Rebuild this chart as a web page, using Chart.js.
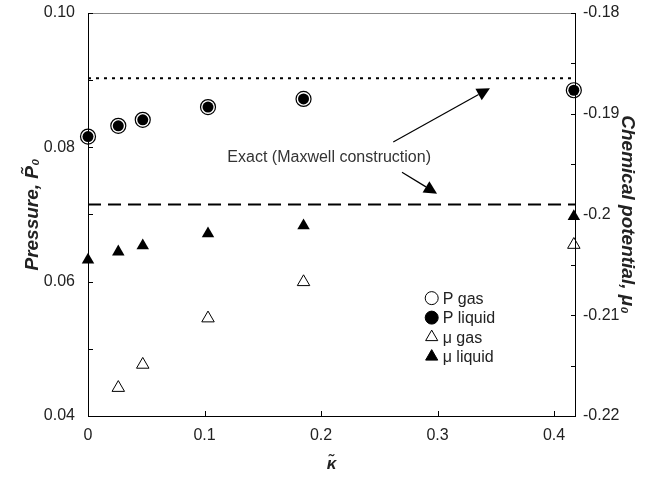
<!DOCTYPE html>
<html>
<head>
<meta charset="utf-8">
<script src="https://cdn.jsdelivr.net/npm/chart.js@4.4.1/dist/chart.umd.min.js"></script>
<style>
  html, body { margin: 0; padding: 0; background: #fff; }
  #wrap { width: 646px; height: 481px; }
</style>
</head>
<body>
<div id="wrap"><canvas id="chart"></canvas></div>
<script>
// data
const kappa = [0, 0.026, 0.047, 0.103, 0.185, 0.417];
const pGas = [0.0816, 0.0832, 0.0841, 0.086, 0.0872, 0.0885];
const pLiquid = [0.0816, 0.0832, 0.0841, 0.086, 0.0872, 0.0885];
const kappaMuGas = [0.026, 0.047, 0.103, 0.185, 0.417];
const muGas = [-0.2172, -0.2149, -0.2103, -0.2067, -0.203];
const muLiquid = [-0.2045, -0.2037, -0.2031, -0.2019, -0.2011, -0.2002];
const pExact = 0.0903;
const muExact = -0.199;

const xTicks = [0, 0.1, 0.2, 0.3, 0.4];
const pTicks = [0.04, 0.06, 0.08, 0.1];
const pMinor = [0.04, 0.05, 0.06, 0.07, 0.08, 0.09, 0.1];
const muTicks = [-0.22, -0.21, -0.2, -0.19, -0.18];
const muMinor = [-0.22, -0.215, -0.21, -0.205, -0.2, -0.195, -0.19, -0.185, -0.18];

const noteText = "Exact (Maxwell construction)";
const noteAt = [0.207, 0.0784];
// arrows: [fromX, fromP, toX, toP]
const arrows = [
  [0.262, 0.0808, 0.345, 0.0888],
  [0.2695, 0.0763, 0.2996, 0.0731]
];

const FONT = "'Liberation Sans', Arial, sans-serif";
const pts = (xs, ys) => xs.map((x, i) => ({ x: x, y: ys[i] }));

const legendItems = [
  { label: "P gas", style: "circle", fill: "#fff", r: 6.5 },
  { label: "P liquid", style: "circle", fill: "#000", r: 6.5 },
  { label: "\u03bc gas", style: "triangle", fill: "#fff", r: 7 },
  { label: "\u03bc liquid", style: "triangle", fill: "#000", r: 7 }
];

const boxAndExtras = {
  id: "boxAndExtras",
  afterDraw(chart) {
    const ctx = chart.ctx;
    const a = chart.chartArea;
    const x = chart.scales.x, yP = chart.scales.yP, yM = chart.scales.yM;
    ctx.save();
    // frame
    ctx.strokeStyle = "#000";
    ctx.lineWidth = 1;
    ctx.beginPath();
    ctx.moveTo(a.left + 0.5, a.top);
    ctx.lineTo(a.left + 0.5, a.bottom + 0.5);
    ctx.lineTo(a.right + 0.5, a.bottom + 0.5);
    ctx.lineTo(a.right + 0.5, a.top);
    ctx.stroke();
    ctx.strokeStyle = "#888";
    ctx.beginPath();
    ctx.moveTo(a.left, a.top + 0.5);
    ctx.lineTo(a.right + 1, a.top + 0.5);
    ctx.stroke();
    // inward tick marks
    ctx.strokeStyle = "#000";
    ctx.beginPath();
    xTicks.forEach(v => {
      const px = Math.round(x.getPixelForValue(v)) + 0.5;
      ctx.moveTo(px, a.bottom);
      ctx.lineTo(px, a.bottom - 5);
    });
    pMinor.forEach(v => {
      const py = Math.round(yP.getPixelForValue(v)) + 0.5;
      ctx.moveTo(a.left, py);
      ctx.lineTo(a.left + 5, py);
    });
    muMinor.forEach(v => {
      const py = Math.round(yM.getPixelForValue(v)) + 0.5;
      ctx.moveTo(a.right + 1, py);
      ctx.lineTo(a.right - 4, py);
    });
    ctx.stroke();

    // annotation text and arrows
    ctx.fillStyle = "#333";
    ctx.font = "16px " + FONT;
    ctx.textAlign = "center";
    ctx.textBaseline = "middle";
    ctx.fillText(noteText, x.getPixelForValue(noteAt[0]), yP.getPixelForValue(noteAt[1]));
    ctx.strokeStyle = "#000";
    ctx.fillStyle = "#000";
    ctx.lineWidth = 1.2;
    arrows.forEach(ar => {
      const x0 = x.getPixelForValue(ar[0]), y0 = yP.getPixelForValue(ar[1]);
      const x1 = x.getPixelForValue(ar[2]), y1 = yP.getPixelForValue(ar[3]);
      const ang = Math.atan2(y1 - y0, x1 - x0);
      const hl = 13, hw = 6.5;
      const bx = x1 - hl * Math.cos(ang), by = y1 - hl * Math.sin(ang);
      ctx.beginPath();
      ctx.moveTo(x0, y0);
      ctx.lineTo(bx, by);
      ctx.stroke();
      ctx.beginPath();
      ctx.moveTo(x1, y1);
      ctx.lineTo(bx + hw * Math.sin(ang), by - hw * Math.cos(ang));
      ctx.lineTo(bx - hw * Math.sin(ang), by + hw * Math.cos(ang));
      ctx.closePath();
      ctx.fill();
    });

    // legend
    const lx = x.getPixelForValue(0.295), ly0 = yM.getPixelForValue(-0.2083);
    ctx.font = "16px " + FONT;
    ctx.textAlign = "left";
    legendItems.forEach((it, i) => {
      const cy = ly0 + i * 19.5;
      ctx.fillStyle = it.fill;
      ctx.strokeStyle = "#000";
      ctx.lineWidth = 1;
      ctx.beginPath();
      if (it.style === "circle") {
        ctx.arc(lx, cy, it.r, 0, Math.PI * 2);
      } else {
        const r = it.r;
        ctx.moveTo(lx, cy - r);
        ctx.lineTo(lx + r * 0.866, cy + r * 0.5);
        ctx.lineTo(lx - r * 0.866, cy + r * 0.5);
        ctx.closePath();
      }
      ctx.fill();
      ctx.stroke();
      ctx.fillStyle = "#222";
      ctx.fillText(it.label, lx + 11, cy + 1);
    });
    ctx.restore();
  }
};

function fixWidth(w) {
  return function (scale) {
    scale.width = w;
    scale.paddingTop = 0;
    scale.paddingBottom = 0;
  };
}

new Chart(document.getElementById("chart"), {
  type: "scatter",
  data: {
    datasets: [
      {
        label: "P liquid",
        data: pts(kappa, pLiquid),
        yAxisID: "yP",
        pointStyle: "circle",
        pointRadius: 5.5,
        backgroundColor: "#000",
        borderColor: "#000",
        borderWidth: 0,
        clip: false,
        order: 1
      },
      {
        label: "P gas",
        data: pts(kappa, pGas),
        yAxisID: "yP",
        pointStyle: "circle",
        pointRadius: 7.5,
        backgroundColor: "#fff",
        borderColor: "#000",
        borderWidth: 1.2,
        clip: false,
        order: 2
      },
      {
        label: "\u03bc gas",
        data: pts(kappaMuGas, muGas),
        yAxisID: "yM",
        pointStyle: "triangle",
        pointRadius: 7.2,
        backgroundColor: "#fff",
        borderColor: "#000",
        borderWidth: 1,
        clip: false,
        order: 3
      },
      {
        label: "\u03bc liquid",
        data: pts(kappa, muLiquid),
        yAxisID: "yM",
        pointStyle: "triangle",
        pointRadius: 7.2,
        backgroundColor: "#000",
        borderColor: "#000",
        borderWidth: 0,
        clip: false,
        order: 4
      },
      {
        type: "line",
        label: "P exact",
        data: [{ x: 0, y: pExact }, { x: 0.418, y: pExact }],
        yAxisID: "yP",
        borderColor: "#000",
        borderWidth: 2,
        borderDash: [3, 5],
        pointRadius: 0,
        order: 5
      },
      {
        type: "line",
        label: "\u03bc exact",
        data: [{ x: 0, y: muExact }, { x: 0.418, y: muExact }],
        yAxisID: "yM",
        borderColor: "#000",
        borderWidth: 2,
        borderDash: [13, 7],
        pointRadius: 0,
        order: 6
      }
    ]
  },
  options: {
    responsive: true,
    maintainAspectRatio: false,
    animation: false,
    layout: { padding: { top: 13, left: 0, right: 0, bottom: 0 } },
    plugins: {
      legend: { display: false },
      tooltip: { enabled: false }
    },
    scales: {
      x: {
        type: "linear",
        min: 0,
        max: 0.418,
        afterBuildTicks: s => { s.ticks = xTicks.map(v => ({ value: v })); },
        afterFit: s => { s.height = 65; s.paddingLeft = 0; s.paddingRight = 0; },
        ticks: {
          font: { family: FONT, size: 16 },
          color: "#222",
          padding: 10,
          maxRotation: 0,
          callback: v => (v === 0 ? "0" : v.toFixed(1))
        },
        grid: { display: false, drawTicks: false },
        border: { display: false },
        title: {
          display: true,
          text: "\u03ba\u0303",
          font: { family: FONT, size: 17, weight: "bold", style: "italic" },
          color: "#222",
          padding: { top: 0, bottom: 6 }
        }
      },
      yP: {
        type: "linear",
        position: "left",
        min: 0.04,
        max: 0.1,
        afterBuildTicks: s => { s.ticks = pTicks.map(v => ({ value: v })); },
        afterFit: fixWidth(88),
        ticks: {
          font: { family: FONT, size: 16 },
          color: "#222",
          padding: 13,
          callback: v => v.toFixed(2)
        },
        grid: { display: false, drawTicks: false },
        border: { display: false },
        title: {
          display: true,
          text: "Pressure, P\u0303\u2080",
          font: { family: FONT, size: 19, weight: "bold", style: "italic" },
          color: "#222",
          padding: { top: 21, bottom: 0 }
        }
      },
      yM: {
        type: "linear",
        position: "right",
        min: -0.22,
        max: -0.18,
        afterBuildTicks: s => { s.ticks = muTicks.map(v => ({ value: v })); },
        afterFit: fixWidth(71),
        ticks: {
          font: { family: FONT, size: 16 },
          color: "#222",
          padding: 8,
          callback: v => String(Math.round(v * 100) / 100)
        },
        grid: { display: false, drawTicks: false },
        border: { display: false },
        title: {
          display: true,
          text: "Chemical potential, \u03bc\u2080",
          font: { family: FONT, size: 19, weight: "bold", style: "italic" },
          color: "#222",
          padding: { top: 7, bottom: 0 }
        }
      }
    }
  },
  plugins: [boxAndExtras]
});
</script>
</body>
</html>
